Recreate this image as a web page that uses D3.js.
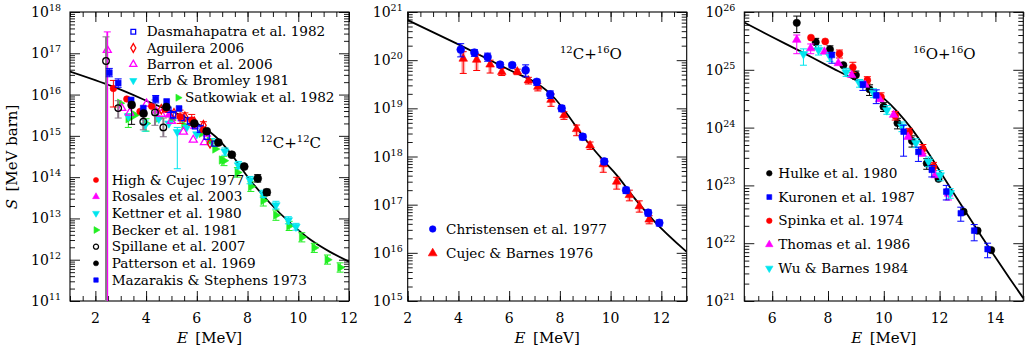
<!DOCTYPE html>
<html><head><meta charset="utf-8">
<script src="https://cdn.jsdelivr.net/npm/d3@7"></script>
<style>
body{margin:0;background:#fff}
svg{display:block}
text{font-family:"DejaVu Serif",serif;fill:#000}
</style>
</head><body>
<svg id="c" width="1029" height="351"></svg>
<script>
// ---------------- DATA ----------------
// each point: [E (MeV), S (MeV barn), S_low, S_high]  (S_low = 0 -> error bar goes below axis)
// Panel 1: 12C+12C
const c12Dasma = [[4.88,4.3e15],[5.07,3.2e15,2.6e15,3.9e15],[5.40,2.7e15],[5.73,2.3e15,1.9e15,2.8e15],[5.93,1.7e15],[6.13,1.5e15,1.2e15,1.8e15],[6.39,9.5e14],[6.70,6.5e14]];
const c12Aguilera = [[4.6,4.4e15],[5.1,3.5e15],[5.53,2.9e15,2.3e15,3.6e15],[5.9,2.2e15],[6.26,1.8e15,1.4e15,2.2e15],[6.52,6.6e14]];
const c12Barron = [[2.47,1.2e17,0,3.3e17],[3.04,4.7e15],[3.35,3.6e15],[4.02,6.0e15],[4.6,3.4e15],[5.0,2.3e15],[5.47,1.25e15],[5.86,8.0e14],[6.3,7.0e14]];
const c12Erb = [[3.3,3.0e15],[3.96,1.8e15,1.3e15,2.4e15],[4.5,2.6e15],[4.9,2.0e15],[5.23,1.25e15,1.6e14,1.6e15],[5.6,1.6e15],[6.0,1.1e15]];
const c12Satkowiak = [[2.97,6.2e15],[3.3,2.6e15,1.6e15,3.4e15],[3.56,3.2e15],[4.0,2.0e15,1.3e15,2.6e15],[4.5,2.7e15],[5.0,2.4e15],[5.5,1.8e15],[6.19,1.15e15],[6.5,7.5e14],[6.72,4.8e14],[6.98,2.6e14]];
const c12High = [[2.71,1.4e16,5.0e15,2.2e16],[3.24,7.8e15],[3.76,3.9e15],[4.22,5.2e15],[4.75,4.4e15],[5.34,2.9e15,2.0e15,4.2e15],[5.8,2.4e15,1.8e15,3.3e15],[6.26,1.4e15]];
const c12Rosales = [[4.4,4.0e15],[4.9,3.2e15],[5.4,2.6e15],[5.9,1.7e15],[6.4,1.1e15]];
const c12Kettner = [[6.6,7.0e14,5.6e14,8.6e14],[7.11,4.2e14,3.4e14,5.1e14],[7.64,1.95e14,1.6e14,2.4e14],[8.10,8.5e13,6.9e13,1.04e14],[8.62,3.9e13,3.2e13,4.8e13],[9.12,2.1e13,1.7e13,2.6e13],[9.61,9.1e12,7.4e12,1.1e13],[9.91,6.3e12,5.2e12,7.6e12]];
const c12Becker = [[7.07,2.5e14,1.9e14,3.2e14],[7.6,1.3e14,1.0e14,1.7e14],[8.13,5.9e13,4.5e13,7.7e13],[8.62,2.7e13,2.0e13,3.5e13],[9.12,1.2e13,9.0e12,1.6e13],[9.64,6.6e12,5.1e12,8.5e12],[10.14,3.5e12,2.7e12,4.5e12],[10.63,1.95e12,1.5e12,2.5e12],[11.15,1.0e12,7.8e11,1.3e12],[11.65,6.5e11,5.0e11,8.4e11]];
const c12Spillane = [[2.42,6.5e16,0,2.5e17],[2.90,4.7e15,2.7e15,7.1e15],[3.89,2.2e15,1.4e15,3.2e15],[4.35,3.7e15,1.8e15,7.4e15],[4.68,1.6e15,9.5e14,2.7e15]];
const c12Patterson = [[3.43,5.6e15,1.9e15,6.5e15],[3.9,3.5e15],[4.8,5.0e15],[5.9,2.0e15],[6.39,1.3e15],[6.85,6.9e14],[7.38,3.5e14],[7.87,1.8e14],[8.40,9.3e13,7.6e13,1.15e14],[8.76,4.3e13,3.6e13,5.1e13]];
const c12Mazarakis = [[2.55,3.4e16,2.7e16,4.3e16],[2.90,1.9e16,1.5e16,2.4e16],[3.41,7.4e15],[3.89,4.7e15],[4.38,7.8e15,6.3e15,9.5e15],[4.81,6.8e15],[5.3,4.6e15]];
const c12FitE = [1.0,2.7,4.4,5.6,6.4,6.9,7.3,8.1,8.9,9.7,10.5,11.25,12.0];
const c12FitS = [3.6e16,1.55e16,5.6e15,2.7e15,1.4e15,7.7e14,4.0e14,8.5e13,2.3e13,7.6e12,3.0e12,1.55e12,9.0e11];

// Panel 2: 12C+16O
const co16Christensen = [[4.09,1.66e20,1.17e20,2.2e20],[4.63,1.44e20,1.2e20,1.65e20],[5.15,1.17e20,0.95e20,1.4e20],[5.64,8.1e19,7.0e19,9.0e19],[6.12,7.9e19,7.0e19,8.7e19],[6.65,6.2e19,4.5e19,8.0e19],[7.09,3.55e19,3.0e19,4.0e19],[7.62,1.95e19,1.6e19,2.3e19],[8.07,1.0e19,0.85e19,1.15e19],[8.90,2.57e18,2.2e18,2.9e18],[9.75,7.9e17,6.8e17,9.0e17],[10.61,2.0e17,1.7e17,2.3e17],[11.48,6.8e16,5.8e16,7.8e16],[11.92,4.2e16,3.6e16,4.8e16]];
const co16Cujec = [[4.19,1.07e20,5.3e19,1.5e20],[4.72,1.02e20,6.1e19,1.3e20],[5.25,8.1e19,5.4e19,1.0e20],[5.71,5.7e19,4.8e19,6.7e19],[6.32,5.8e19,5.0e19,6.5e19],[6.76,3.8e19,3.2e19,4.4e19],[7.13,2.8e19,2.3e19,3.3e19],[7.65,1.5e19,1.1e19,2.0e19],[8.16,7.2e18,5.9e18,8.5e18],[8.66,3.7e18,2.7e18,4.5e18],[9.19,1.7e18,1.4e18,2.0e18],[9.71,6.9e17,4.7e17,9.0e17],[10.24,3.0e17,2.1e17,3.7e17],[10.74,1.58e17,1.2e17,2.0e17],[11.13,9.3e16,7.0e16,1.2e17],[11.52,4.9e16,4.0e16,5.9e16]];
const co16FitE = [2.0,4.06,6.16,7.09,7.74,8.27,8.92,9.71,10.24,10.90,11.68,13.0];
const co16FitS = [6.8e20,2.05e20,5.75e19,3.3e19,1.74e19,7.8e18,2.6e18,8.3e17,4.1e17,1.45e17,4.8e16,1.05e16];

// Panel 3: 16O+16O
const oHulke = [[6.88,6.5e25,4.4e25,8.5e25],[7.56,3.0e25,2.3e25,3.5e25],[8.07,2.25e25,1.9e25,2.6e25],[8.55,1.2e25],[9.0,8.1e24,6.8e24,9.5e24],[9.49,4.6e24,3.6e24,5.5e24],[9.99,2.3e24,1.9e24,2.7e24],[10.49,1.2e24,0.95e24,1.45e24],[11.01,5.9e23,4.6e23,7.2e23],[11.54,2.4e23,1.9e23,2.9e23],[11.96,1.3e23],[12.86,3.5e22],[13.36,1.65e22],[13.85,7.6e21]];
const oKuronen = [[8.14,1.8e25,1.3e25,2.0e25],[9.25,5.5e24,4.4e24,6.2e24],[9.73,3.6e24,2.6e24,4.5e24],[10.71,8.5e23,3.2e23,1.1e24],[11.24,3.8e23,2.6e23,4.6e23],[11.72,1.86e23,1.4e23,2.2e23],[12.24,7.8e22,5.6e22,1.0e23],[12.76,3.3e22,2.4e22,4.2e22],[13.24,1.65e22,1.1e22,2.1e22],[13.72,7.9e21,5.6e21,1.0e22]];
const oSpinka = [[7.39,3.6e25],[7.9,3.1e25],[8.41,1.9e25,1.6e25,2.2e25],[8.89,1.1e25,0.9e25,1.35e25],[9.41,6.6e24,5.7e24,7.6e24],[9.9,3.4e24,2.9e24,4.0e24],[10.41,1.6e24,1.35e24,1.9e24],[10.91,8.2e23,6.9e23,9.7e23],[11.40,4.3e23,3.6e23,5.1e23],[11.78,2.1e23,1.8e23,2.5e23]];
const oThomas = [[6.88,3.3e25,1.9e25,4.0e25],[7.38,2.35e25,1.9e25,2.8e25],[7.87,2.05e25],[8.37,1.3e25],[8.85,8.1e24],[9.33,5.5e24],[9.85,3.1e24],[10.35,1.66e24],[10.87,6.9e23],[11.38,3.5e23],[11.84,1.5e23],[12.32,7.2e22,5.6e22,8.8e22]];
const oWu = [[7.12,1.87e25,1.2e25,2.3e25],[7.66,2.2e25,1.8e25,2.6e25],[8.07,1.7e25,1.4e25,2.0e25],[8.65,9.1e24,7.7e24,1.06e25],[9.13,5.9e24,5.0e24,6.8e24],[9.63,4.0e24,3.3e24,4.7e24],[10.11,2.0e24,1.7e24,2.4e24],[10.65,1.05e24,0.85e24,1.25e24],[11.15,5.4e23,4.5e23,6.4e23],[11.60,2.6e23,2.1e23,3.1e23],[12.02,1.5e23,1.2e23,1.8e23],[12.38,7.4e22,6.0e22,8.8e22]];
const oFitE = [5.0,6.0,7.0,8.0,9.0,9.5,10.0,10.5,11.0,11.5,12.0,12.5,13.0,13.5,14.0,14.5,15.0];
const oFitS = [6.6e25,3.7e25,2.1e25,1.17e25,6.6e24,4.8e24,3.2e24,1.86e24,9.5e23,4.3e23,1.8e23,7.4e22,3.1e22,1.32e22,5.7e21,2.5e21,1.12e21];

// tick labels
const xLabels1 = [2,4,6,8,10,12];
const xLabels2 = [2,4,6,8,10,12];
const xLabels3 = [6,8,10,12,14];
const yExp1 = [11,12,13,14,15,16,17,18];
const yExp2 = [15,16,17,18,19,20,21];
const yExp3 = [21,22,23,24,25,26];

// ---------------- DRAWING ----------------
const svg = d3.select("#c");
svg.append("rect").attr("width",1029).attr("height",351).attr("fill","#fff");
const PW = 279, PH = 289, TOP = 12;

const symType = {square:d3.symbolSquare, diamond:d3.symbolDiamond, circle:d3.symbolCircle,
  tri:d3.symbolTriangle, tridown:d3.symbolTriangle, triright:d3.symbolTriangle};
const symRot = {tridown:180, triright:90};

function drawSym(g, x, y, s) {
  const size = s.size || 30;
  g.append("path")
    .attr("d", d3.symbol().type(symType[s.sym]).size(size)())
    .attr("transform", `translate(${x},${y}) rotate(${symRot[s.sym]||0})`)
    .attr("fill", s.open ? "none" : s.color)
    .attr("stroke", s.color)
    .attr("stroke-width", s.open ? 1.3 : 0.6);
}

function panel(cfg) {
  const L = cfg.left;
  const x = d3.scaleLinear().domain(cfg.xd).range([L, L+PW]);
  const y = d3.scaleLog().domain(cfg.yd).range([TOP+PH, TOP]);
  const g = svg.append("g");
  const clipId = "clip"+cfg.id;
  svg.append("clipPath").attr("id", clipId).append("rect")
    .attr("x", L).attr("y", TOP).attr("width", PW).attr("height", PH);

  const minorX = d3.range(Math.ceil(cfg.xd[0]*2)/2, cfg.xd[1]+0.001, 0.5);
  const majorX = cfg.xLabels;
  const yMinor = [], yMajor = [];
  for (let e = Math.log10(cfg.yd[0]); e < Math.log10(cfg.yd[1]); e++)
    for (let m = 2; m <= 9; m++) yMinor.push(m*Math.pow(10,e));
  cfg.yExp.forEach(e => yMajor.push(Math.pow(10,e)));

  const ax = (axis, vals, len, tr) => {
    const a = g.append("g").attr("transform", tr)
      .call(axis.tickValues(vals).tickSizeInner(-len).tickSizeOuter(0).tickFormat(""));
    a.select(".domain").remove();
    a.selectAll("line").attr("stroke","#000").attr("stroke-width",0.9);
  };
  ax(d3.axisBottom(x), minorX, 5, `translate(0,${TOP+PH})`);
  ax(d3.axisBottom(x), majorX, 10, `translate(0,${TOP+PH})`);
  ax(d3.axisTop(x), minorX, 5, `translate(0,${TOP})`);
  ax(d3.axisTop(x), majorX, 10, `translate(0,${TOP})`);
  ax(d3.axisLeft(y), yMinor, 5, `translate(${L},0)`);
  ax(d3.axisLeft(y), yMajor, 10, `translate(${L},0)`);
  ax(d3.axisRight(y), yMinor, 5, `translate(${L+PW},0)`);
  ax(d3.axisRight(y), yMajor, 10, `translate(${L+PW},0)`);

  g.append("rect").attr("x",L).attr("y",TOP).attr("width",PW).attr("height",PH)
    .attr("fill","none").attr("stroke","#000").attr("stroke-width",1.1);

  majorX.forEach(v => g.append("text").attr("x", x(v)).attr("y", TOP+PH+22)
    .attr("text-anchor","middle").attr("font-size",14).text(v));
  cfg.yExp.forEach(e => {
    const t = g.append("text").attr("x", L-cfg.lgap).attr("y", y(Math.pow(10,e))+5)
      .attr("text-anchor","end").attr("font-size",14);
    t.append("tspan").text("10");
    t.append("tspan").attr("font-size",9.5).attr("dy",-6).text(e);
  });
  const xt = g.append("text").attr("x", L+PW/2).attr("y", 343).attr("text-anchor","middle").attr("font-size",15);
  xt.append("tspan").attr("font-style","italic").text("E");
  xt.append("tspan").text("\u2002[MeV]");

  const rl = g.append("text").attr("x", cfg.lab[0]).attr("y", cfg.lab[1]).attr("font-size",15);
  cfg.labParts.forEach(p => {
    rl.append("tspan").attr("font-size",10).attr("dy",-6).text(p[0]);
    rl.append("tspan").attr("dy",6).text(p[1]);
  });

  const dg = g.append("g").attr("clip-path", `url(#${clipId})`);
  const line = d3.line().x(d => x(d[0])).y(d => y(d[1])).curve(d3.curveMonotoneX);
  dg.append("path").datum(cfg.fitE.map((e,i) => [e, cfg.fitS[i]]))
    .attr("d", line).attr("fill","none").attr("stroke","#000").attr("stroke-width",1.8);

  cfg.series.forEach(s => {
    const sg = dg.append("g");
    s.data.forEach(p => {
      if (p.length > 2) {
        const px = x(p[0]);
        const yl = p[2] > 0 ? y(p[2]) : TOP+PH+5;
        const yh = y(p[3]);
        if (s.halo) sg.append("line").attr("x1",px).attr("x2",px).attr("y1",yl).attr("y2",yh)
          .attr("stroke", s.color).attr("stroke-opacity",0.3).attr("stroke-width",4);
        sg.append("line").attr("x1",px).attr("x2",px).attr("y1",yl).attr("y2",yh)
          .attr("stroke", s.ecolor||s.color).attr("stroke-width", s.ew||1);
        const caps = p[2] > 0 ? [yl,yh] : [yh];
        caps.forEach(cy => sg.append("line").attr("x1",px-3.5).attr("x2",px+3.5).attr("y1",cy).attr("y2",cy)
          .attr("stroke", s.ecolor||s.color).attr("stroke-width",1));
      }
    });
    s.data.forEach(p => drawSym(sg, x(p[0]), y(p[1]), s));
  });

  cfg.legends.forEach(lg => {
    lg.items.forEach((s,i) => {
      const ly = lg.y + i*lg.dy;
      drawSym(g, lg.mx, ly, Object.assign({}, s, {size: lg.msize||22}));
      g.append("text").attr("x", lg.tx).attr("y", ly+4.5).attr("font-size",13.6).text(s.name);
    });
  });
}

const S1 = {
  dasma:{data:c12Dasma,name:"Dasmahapatra et al. 1982",color:"#0000ff",sym:"square",open:true,size:26},
  agu:{data:c12Aguilera,name:"Aguilera 2006",color:"#ff0000",sym:"diamond",open:true,size:26},
  bar:{data:c12Barron,name:"Barron et al. 2006",color:"#ff00ff",sym:"tri",open:true,size:28,ew:1.8},
  erb:{data:c12Erb,name:"Erb & Bromley 1981",color:"#00e5ee",sym:"tridown",size:30},
  sat:{data:c12Satkowiak,name:"Satkowiak et al. 1982",color:"#22ee22",sym:"triright",size:30},
  high:{data:c12High,name:"High & Cujec 1977",color:"#ff0000",sym:"circle",size:34},
  ros:{data:c12Rosales,name:"Rosales et al. 2003",color:"#ff00ff",sym:"tri",size:28},
  ket:{data:c12Kettner,name:"Kettner et al. 1980",color:"#00e5ee",sym:"tridown",size:30},
  bec:{data:c12Becker,name:"Becker et al. 1981",color:"#22ee22",sym:"triright",size:30},
  spi:{data:c12Spillane,name:"Spillane et al. 2007",color:"#000000",sym:"circle",open:true,size:34,ecolor:"#8a7a8a",ew:2},
  pat:{data:c12Patterson,name:"Patterson et al. 1969",color:"#000000",sym:"circle",size:50},
  maz:{data:c12Mazarakis,name:"Mazarakis & Stephens 1973",color:"#0000ff",sym:"square",size:34}
};
panel({id:1, left:70, xd:[1,12], yd:[1e11,1e18], xLabels:xLabels1, yExp:yExp1, lgap:9,
  lab:[260,148], labParts:[["12","C+"],["12","C"]],
  fitE:c12FitE, fitS:c12FitS,
  series:[S1.bec,S1.ket,S1.sat,S1.erb,S1.ros,S1.bar,S1.agu,S1.dasma,S1.spi,S1.high,S1.maz,S1.pat],
  legends:[
    {mx:133.3, tx:146.7, y:31.7, dy:16.3, items:[S1.dasma,S1.agu,S1.bar,S1.erb]},
    {mx:178, tx:185, y:97.7, dy:16, items:[S1.sat]},
    {mx:96, tx:111.7, y:180, dy:16.67, items:[S1.high,S1.ros,S1.ket,S1.bec,S1.spi,S1.pat,S1.maz], msize:20}
  ]});

const S2 = {
  chr:{data:co16Christensen,name:"Christensen et al. 1977",color:"#0000ff",sym:"circle",size:48,halo:true},
  cuj:{data:co16Cujec,name:"Cujec & Barnes 1976",color:"#ff0000",sym:"tri",size:32,halo:true}
};
panel({id:2, left:407.7, xd:[2,13], yd:[1e15,1e21], xLabels:xLabels2, yExp:yExp2, lgap:5,
  lab:[560,59], labParts:[["12","C+"],["16","O"]],
  fitE:co16FitE, fitS:co16FitS,
  series:[S2.cuj,S2.chr],
  legends:[{mx:432.7, tx:446, y:229, dy:24.3, items:[S2.chr,S2.cuj], msize:34}]});

const S3 = {
  hul:{data:oHulke,name:"Hulke et al. 1980",color:"#000000",sym:"circle",size:42},
  kur:{data:oKuronen,name:"Kuronen et al. 1987",color:"#0000ff",sym:"square",size:32},
  spi:{data:oSpinka,name:"Spinka et al. 1974",color:"#ff0000",sym:"circle",size:38,halo:true},
  tho:{data:oThomas,name:"Thomas et al. 1986",color:"#ff00ff",sym:"tri",size:32},
  wu:{data:oWu,name:"Wu & Barnes 1984",color:"#00e5ee",sym:"tridown",size:32}
};
panel({id:3, left:744.3, xd:[5,15], yd:[1e21,1e26], xLabels:xLabels3, yExp:yExp3, lgap:9,
  lab:[913,59], labParts:[["16","O+"],["16","O"]],
  fitE:oFitE, fitS:oFitS,
  series:[S3.hul,S3.spi,S3.tho,S3.wu,S3.kur],
  legends:[{mx:769.3, tx:778.3, y:173.3, dy:23.75, items:[S3.hul,S3.kur,S3.spi,S3.tho,S3.wu], msize:24}]});

const yt = svg.append("text").attr("transform","translate(17,157) rotate(-90)")
  .attr("text-anchor","middle").attr("font-size",15);
yt.append("tspan").attr("font-style","italic").text("S");
yt.append("tspan").text("\u2002[MeV barn]");
</script>
</body></html>
